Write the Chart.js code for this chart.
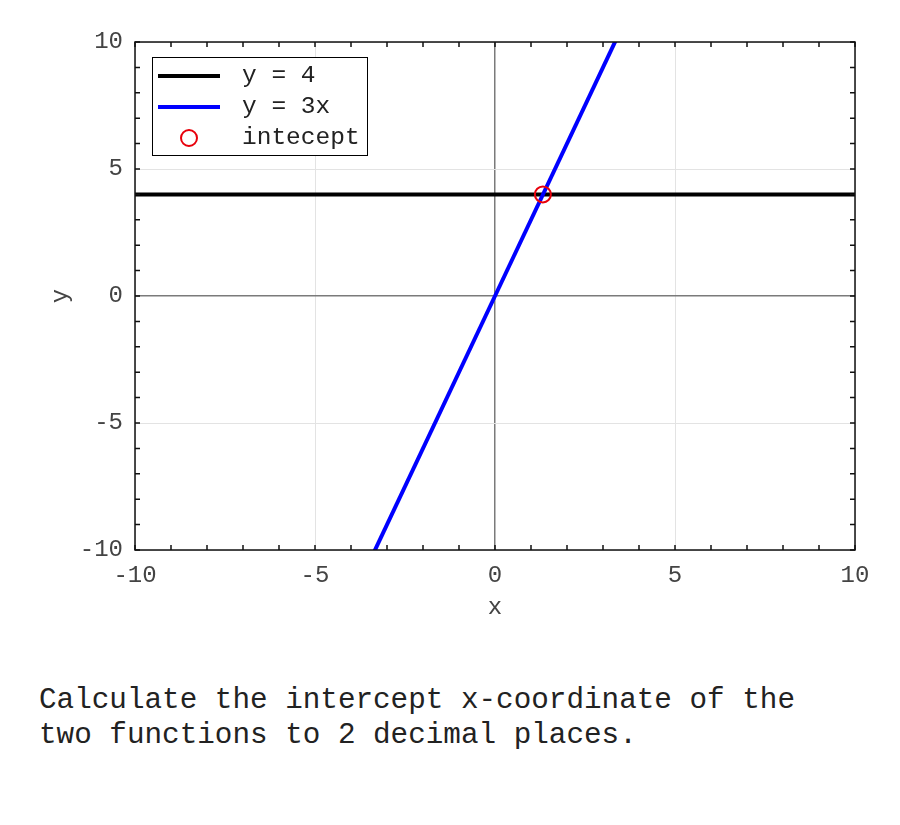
<!DOCTYPE html>
<html>
<head>
<meta charset="utf-8">
<title>Intercept</title>
<script src="https://cdn.jsdelivr.net/npm/chart.js@4/dist/chart.umd.min.js"></script>
<style>
    body { margin: 0; background: #fff; }
    #wrap { position: relative; width: 900px; height: 825px; }
    #chart { position: absolute; left: 0; top: 0; }
    #question {
        position: absolute; left: 39px; top: 683px;
        font-family: 'Liberation Mono', 'Courier New', monospace;
        font-size: 29.3px; line-height: 35px; color: #222;
        white-space: pre;
    }
</style>
</head>
<body>
<div id="wrap">
    <canvas id="chart" width="900" height="650"></canvas>
    <div id="question">Calculate the intercept x-coordinate of the
two functions to 2 decimal places.</div>
</div>
<script>
// 数据
const hLineX = [-10, 10];
const hLineY = [4, 4];
const slopeX = [-4, 0, 4];
const slopeY = [-12, 0, 12];
const interceptX = [1.33];
const interceptY = [4];
const xTicks = [-10, -5, 0, 5, 10];
const yTicks = [-10, -5, 0, 5, 10];
const seriesLabels = ['y = 4', 'y = 3x', 'intecept'];

const FONT = "'Liberation Mono', 'Courier New', monospace";

function toPoints(xs, ys) {
    return xs.map((x, i) => ({ x: x, y: ys[i] }));
}

// 坐标框 + 内向小刻度
const framePlugin = {
    id: 'frame',
    afterDraw(chart) {
        const ctx = chart.ctx;
        const a = chart.chartArea;
        const xs = chart.scales.x, ys = chart.scales.y;
        ctx.save();
        ctx.strokeStyle = '#111';
        ctx.lineWidth = 1.5;
        ctx.beginPath();
        for (let v = Math.ceil(xs.min); v <= xs.max; v++) {
            const px = xs.getPixelForValue(v);
            ctx.moveTo(px, a.bottom); ctx.lineTo(px, a.bottom - 5);
            ctx.moveTo(px, a.top); ctx.lineTo(px, a.top + 5);
        }
        for (let v = Math.ceil(ys.min); v <= ys.max; v++) {
            const py = ys.getPixelForValue(v);
            ctx.moveTo(a.left, py); ctx.lineTo(a.left + 5, py);
            ctx.moveTo(a.right, py); ctx.lineTo(a.right - 5, py);
        }
        ctx.stroke();
        ctx.strokeRect(a.left, a.top, a.right - a.left, a.bottom - a.top);
        ctx.restore();
    }
};

// 图例(画在绘图区内)
const boxLegendPlugin = {
    id: 'boxLegend',
    afterDraw(chart) {
        const ctx = chart.ctx;
        const a = chart.chartArea;
        const left = a.left + 17, top = a.top + 15;
        const w = 215, h = 98, rowH = 31;
        ctx.save();
        ctx.fillStyle = '#fff';
        ctx.fillRect(left, top, w, h);
        ctx.strokeStyle = '#000';
        ctx.lineWidth = 1;
        ctx.strokeRect(left + 0.5, top + 0.5, w, h);
        ctx.font = '24.5px ' + FONT;
        ctx.textBaseline = 'middle';
        chart.data.datasets.forEach((ds, i) => {
            const cy = top + 19 + i * rowH;
            if (ds.showLine) {
                ctx.strokeStyle = ds.borderColor;
                ctx.lineWidth = 4;
                ctx.beginPath();
                ctx.moveTo(left + 6, cy);
                ctx.lineTo(left + 68, cy);
                ctx.stroke();
            } else {
                ctx.strokeStyle = ds.pointBorderColor;
                ctx.lineWidth = 2;
                ctx.beginPath();
                ctx.arc(left + 37, cy, 8, 0, Math.PI * 2);
                ctx.stroke();
            }
            ctx.fillStyle = '#222';
            ctx.fillText(ds.label, left + 90, cy);
        });
        ctx.restore();
    }
};

document.addEventListener('DOMContentLoaded', function() {
    const canvas = document.getElementById('chart');
    new Chart(canvas, {
        type: 'scatter',
        data: {
            datasets: [{
                label: seriesLabels[0],
                data: toPoints(hLineX, hLineY),
                showLine: true,
                borderColor: '#000000',
                borderWidth: 4,
                pointRadius: 0,
                clip: 0,
                order: 3
            }, {
                label: seriesLabels[1],
                data: toPoints(slopeX, slopeY),
                showLine: true,
                borderColor: '#0000ff',
                borderWidth: 4,
                pointRadius: 0,
                clip: 0,
                order: 2
            }, {
                label: seriesLabels[2],
                data: toPoints(interceptX, interceptY),
                showLine: false,
                pointRadius: 8,
                pointBorderWidth: 2,
                pointBorderColor: '#e8000b',
                pointBackgroundColor: 'rgba(0,0,0,0)',
                order: 1
            }]
        },
        options: {
            responsive: false,
            animation: false,
            layout: { padding: { left: 0, top: 42, right: 45, bottom: 0 } },
            plugins: {
                legend: { display: false },
                tooltip: { enabled: false }
            },
            scales: {
                x: {
                    type: 'linear',
                    min: -10, max: 10,
                    afterFit: s => { s.height = 100; },
                    afterBuildTicks: s => { s.ticks = xTicks.map(v => ({ value: v })); },
                    border: { display: false },
                    grid: {
                        drawTicks: false,
                        color: c => c.tick && c.tick.value === 0 ? '#7a7a7a' : '#e3e3e3',
                        lineWidth: c => c.tick && c.tick.value === 0 ? 1.5 : 1
                    },
                    ticks: {
                        padding: 11,
                        color: '#444',
                        font: { family: FONT, size: 24 },
                        maxRotation: 0
                    },
                    title: {
                        display: true,
                        text: 'x',
                        color: '#444',
                        font: { family: FONT, size: 24 },
                        padding: { top: 0, bottom: 28 }
                    }
                },
                y: {
                    type: 'linear',
                    min: -10, max: 10,
                    afterFit: s => { s.width = 135; },
                    afterBuildTicks: s => { s.ticks = yTicks.map(v => ({ value: v })); },
                    border: { display: false },
                    grid: {
                        drawTicks: false,
                        color: c => c.tick && c.tick.value === 0 ? '#7a7a7a' : '#e3e3e3',
                        lineWidth: c => c.tick && c.tick.value === 0 ? 1.5 : 1
                    },
                    ticks: {
                        padding: 12,
                        color: '#444',
                        font: { family: FONT, size: 24 }
                    },
                    title: {
                        display: true,
                        text: 'y',
                        color: '#444',
                        font: { family: FONT, size: 24 },
                        padding: { top: 46, bottom: 0 }
                    }
                }
            }
        },
        plugins: [framePlugin, boxLegendPlugin]
    });
});
</script>
</body>
</html>
